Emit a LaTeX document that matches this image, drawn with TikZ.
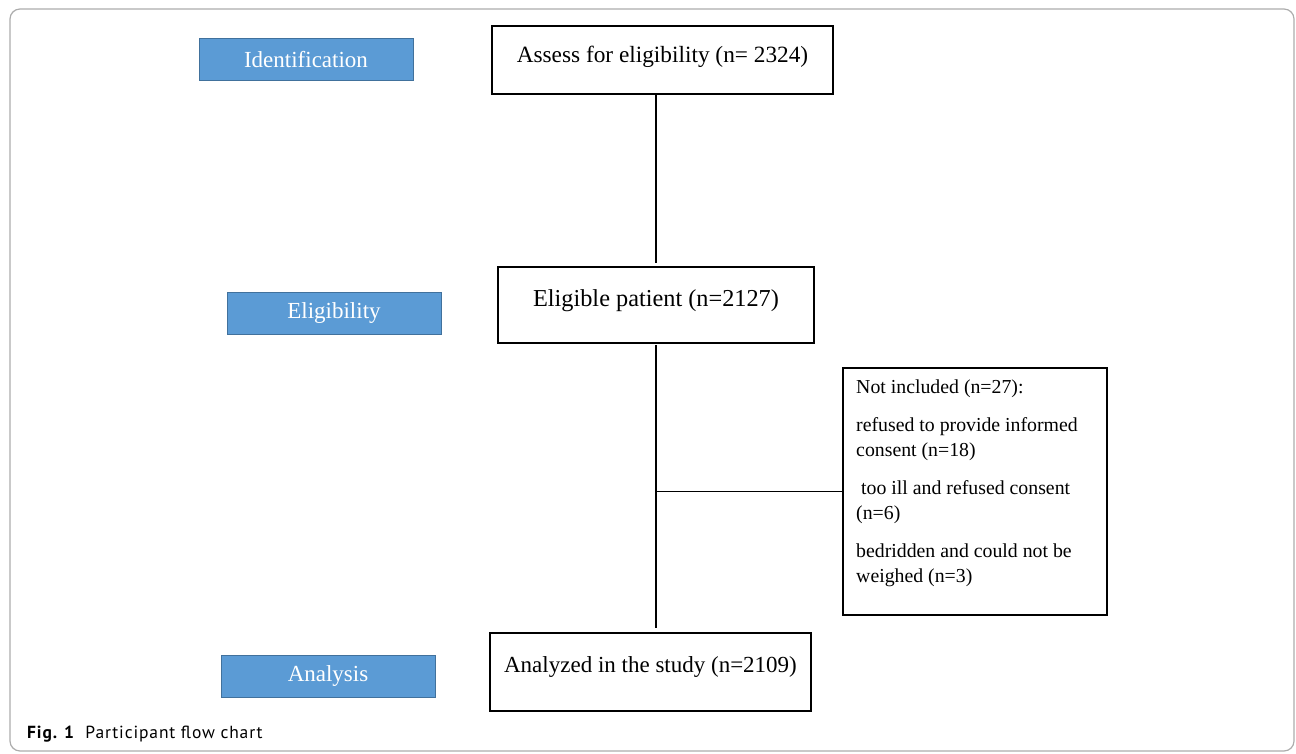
\documentclass[tikz,border=0pt]{standalone}
\usepackage{fontspec}
\setmainfont{Liberation Serif}
\setsansfont{PT Sans}
\newfontfamily\captionfont[LetterSpace=5]{PT Sans}
\usepackage{xcolor}
\usepackage{tikz}
\usetikzlibrary{positioning,calc}
\definecolor{stagefill}{HTML}{5B9BD5}
\definecolor{stageline}{HTML}{41719C}

\begin{document}
\begin{tikzpicture}[
  x=1pt, y=-1pt,
  box/.style={draw, line width=1.3pt, inner sep=0pt, outer sep=0pt,
    text height=16pt},
  stage/.style={draw=stageline, line width=1pt, fill=stagefill, text=white,
    inner sep=0pt, outer sep=0pt, minimum width=214pt, minimum height=42pt,
    font=\fontsize{23}{28}\selectfont},
  note/.style={draw, line width=1.3pt, inner sep=0pt, outer sep=0pt,
    minimum width=264pt, minimum height=247pt},
  notetext/.style={inner sep=0pt, align=left,
    font=\fontsize{19.8}{25}\selectfont},
  link/.style={line width=1.3pt},
  frame/.style={draw=gray!65, line width=1.2pt, rounded corners=10pt},
]
\useasboundingbox (0,0) rectangle (1296,754);
\draw[frame] (10,9) rectangle (1294,751);
% flow boxes
\node[box, minimum width=341pt, minimum height=68pt, text depth=10pt,
  font=\fontsize{23.3}{28}\selectfont] (assess) at (662.5,60) {Assess for eligibility (n= 2324)};
\node[box, minimum width=316pt, minimum height=76pt, text depth=14pt,
  font=\fontsize{24.3}{28}\selectfont] (elig) at (656,305) {Eligible patient (n=2127)};
\node[box, minimum width=321pt, minimum height=78pt, text depth=15pt,
  font=\fontsize{23}{28}\selectfont] (anal) at (650.5,672) {Analyzed in the study (n=2109)};
\node[note] (excl) at (975,491.5) {};
\node[notetext, below right=12pt and 13pt of excl.north west] (excltxt) {Not included (n=27):\\[13pt]
refused to provide informed\\
consent (n=18)\\[13pt]
\hspace{5pt}too ill and refused consent\\
(n=6)\\[13pt]
bedridden and could not be\\
weighed (n=3)};
% stage labels
\node[stage, left=79pt of assess] (ident) {Identification};
\node[stage, left=57pt of elig, yshift=-8pt] (eligstage) {Eligibility};
\node[stage, left=55pt of anal, yshift=-4pt] (analstage) {Analysis};
% connectors
\coordinate (branch) at (elig.south |- excl.west);
\draw[link, shorten <=1pt, shorten >=4pt] (assess.south -| elig.north) -- (elig.north);
\draw[link, shorten <=2pt, shorten >=5pt] (elig.south) -- (elig.south |- anal.north);
\draw[link] (branch) -- (excl.west);
% caption
\node[anchor=base west, inner sep=0pt, font=\captionfont\fontsize{17.5}{20}\selectfont] (caption) at (27,738) {\textbf{Fig. 1}\hspace{0.6em}Participant flow chart};
\end{tikzpicture}
\end{document}
